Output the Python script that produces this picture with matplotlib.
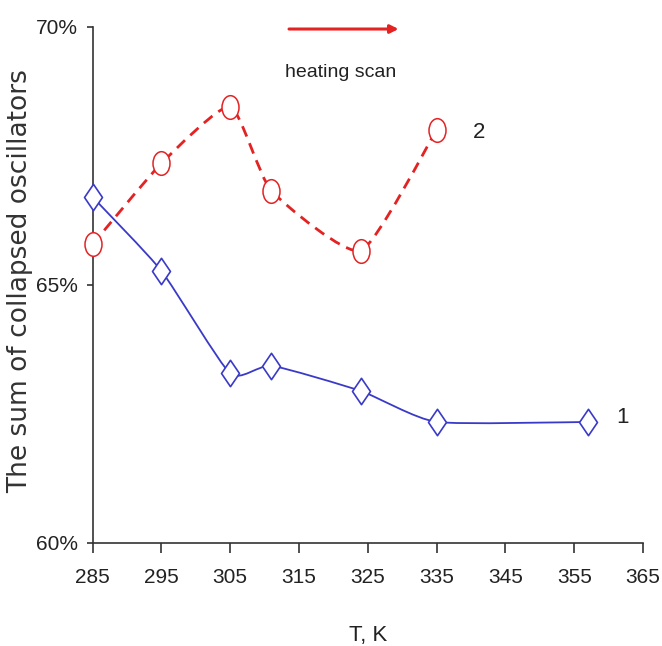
import matplotlib
matplotlib.use("Agg")
import matplotlib.pyplot as plt
import numpy as np
from matplotlib.path import Path
from matplotlib.patches import PathPatch

# ---- data ----
temp_1 = [285, 295, 305, 311, 324, 335, 357]
sum_1 = [66.7, 65.27, 63.28, 63.43, 62.94, 62.34, 62.34]
temp_2 = [285, 295, 305, 311, 324, 335]
sum_2 = [65.78, 67.35, 68.45, 66.82, 65.66, 68.0]
x_ticks = [285, 295, 305, 315, 325, 335, 345, 355, 365]
y_ticks = [60, 65, 70]
y_tick_labels = ["60%", "65%", "70%"]

W, H = 662, 646
fig = plt.figure(figsize=(W / 100, H / 100), dpi=100)
ax = fig.add_axes([92.5 / W, 103.3 / H, 550.5 / W, 516 / H])

FONT = "Liberation Sans"
TXT = "#222222"
BLUE = "#3a3ac8"
RED = "#e42222"


def smooth_path(xs, ys, k=0.55):
    """Mild Catmull-Rom style smoothing (spreadsheet 'smoothed line') as Bezier path."""
    pts = np.column_stack([xs, ys]).astype(float)
    n = len(pts)
    verts = [pts[0]]
    codes = [Path.MOVETO]
    for i in range(n - 1):
        p0 = pts[i - 1] if i > 0 else pts[i]
        p1 = pts[i]
        p2 = pts[i + 1]
        p3 = pts[i + 2] if i + 2 < n else pts[i + 1]
        c1 = p1 + k * (p2 - p0) / 6.0
        c2 = p2 - k * (p3 - p1) / 6.0
        verts += [c1, c2, p2]
        codes += [Path.CURVE4] * 3
    return Path(verts, codes)


# series 1: solid blue smoothed line
ax.add_patch(PathPatch(smooth_path(temp_1, sum_1), facecolor="none",
                       edgecolor=BLUE, lw=1.3, zorder=2))
# series 2: dashed red smoothed line
ax.add_patch(PathPatch(smooth_path(temp_2, sum_2), facecolor="none",
                       edgecolor=RED, lw=2.0, linestyle=(0, (4, 2.6)), zorder=2))

diamond = Path([(0, 1), (0.68, 0), (0, -1), (-0.68, 0), (0, 1)],
               [Path.MOVETO, Path.LINETO, Path.LINETO, Path.LINETO, Path.CLOSEPOLY])
circ = Path.unit_circle()
ellipse = Path(circ.vertices * np.array([0.72, 1.0]), circ.codes)

ax.plot(temp_1, sum_1, linestyle="none", marker=diamond, markersize=19,
        markerfacecolor="white", markeredgecolor=BLUE, markeredgewidth=1.2,
        zorder=3, clip_on=False)
ax.plot(temp_2, sum_2, linestyle="none", marker=ellipse, markersize=17,
        markerfacecolor="white", markeredgecolor=RED, markeredgewidth=1.1,
        zorder=3, clip_on=False)

ax.set_xlim(285, 365)
ax.set_ylim(60, 70)
ax.set_xticks(x_ticks)
ax.set_xticklabels([str(t) for t in x_ticks])
ax.set_yticks(y_ticks)
ax.set_yticklabels(y_tick_labels)

for s in ["top", "right"]:
    ax.spines[s].set_visible(False)
for s in ["left", "bottom"]:
    ax.spines[s].set_color("#333333")
    ax.spines[s].set_linewidth(1.2)

ax.tick_params(axis="x", direction="out", length=7, width=1.2, color="#333333",
               pad=11, labelsize=15, labelcolor=TXT)
ax.tick_params(axis="y", direction="out", length=4.5, width=1.2, color="#333333",
               pad=6, labelsize=15, labelcolor=TXT)
for lab in ax.get_xticklabels() + ax.get_yticklabels():
    lab.set_fontfamily(FONT)

ax.set_xlabel("T, K", fontsize=16, fontfamily=FONT, color=TXT)
ax.xaxis.set_label_coords(0.5, -0.179)
ax.xaxis.label.set_va("center")

# y label
fig.text(20 / W, 153 / H, "The sum of collapsed oscillators", rotation=90,
         ha="center", va="bottom", fontsize=19, fontfamily="DejaVu Sans",
         color="#333333")

# annotation: heating scan arrow
ax.annotate("", xy=(0.556, 0.9955), xytext=(0.357, 0.9955), xycoords="axes fraction",
            textcoords="axes fraction",
            arrowprops=dict(arrowstyle="-|>", color=RED, lw=2.2, mutation_scale=12,
                            shrinkA=0, shrinkB=0), annotation_clip=False)
ax.text(0.35, 0.912, "heating scan", transform=ax.transAxes, ha="left", va="center",
        fontsize=14, fontfamily=FONT, color=TXT)
ax.text(0.702, 0.794, "2", transform=ax.transAxes, ha="center", va="center",
        fontsize=16, fontfamily=FONT, color=TXT)
ax.text(0.9636, 0.2436, "1", transform=ax.transAxes, ha="center", va="center",
        fontsize=16, fontfamily=FONT, color=TXT)

fig.savefig("out.png", dpi=100)
